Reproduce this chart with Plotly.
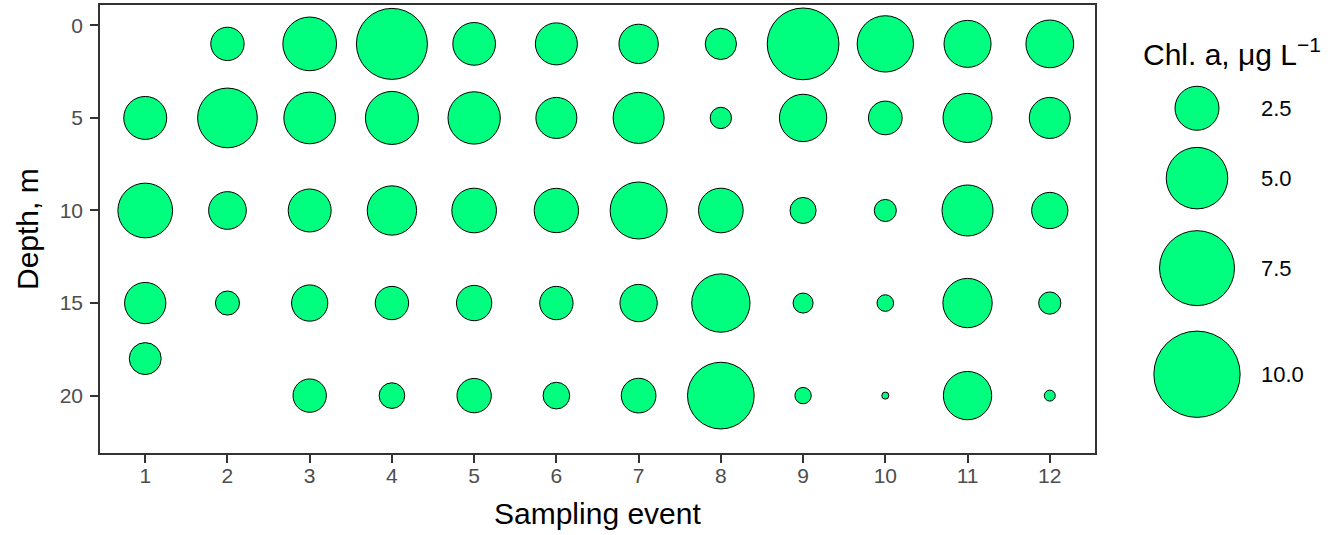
import numpy as np
import plotly.graph_objects as go

# ---------------- data ----------------
events = list(range(1, 13))
depth_levels = [1, 5, 10, 15, 18, 20]

# Chl. a (µg/L) per sampling event (1..12) at each depth; None = not sampled
chl_d1 = [None, 1.40, 3.78, 6.71, 2.35, 2.27, 1.98, 1.22, 6.85, 4.17, 2.87, 2.96]
chl_d5 = [2.38, 4.70, 3.49, 3.68, 3.58, 2.16, 3.40, 0.54, 2.91, 1.43, 3.13, 2.16]
chl_d10 = [3.93, 1.81, 2.38, 3.17, 2.58, 2.54, 4.27, 2.58, 0.83, 0.58, 3.40, 1.67]
chl_d15 = [2.19, 0.70, 1.67, 1.40, 1.58, 1.40, 1.77, 4.48, 0.47, 0.31, 3.17, 0.59]
chl_d18 = [1.28, None, None, None, None, None, None, None, None, None, None, None]
chl_d20 = [None, None, 1.40, 0.80, 1.49, 0.87, 1.52, 5.90, 0.30, 0.04, 3.04, 0.12]

legend_values = [2.5, 5.0, 7.5, 10.0]
legend_labels = ["2.5", "5.0", "7.5", "10.0"]
x_ticks = events
y_ticks = [0, 5, 10, 15, 20]

rows = [chl_d1, chl_d5, chl_d10, chl_d15, chl_d18, chl_d20]

# ---------------- build long table ----------------
xs, ys, vs = [], [], []
for depth, row in zip(depth_levels, rows):
    for ev, v in zip(events, row):
        if v is not None:
            xs.append(ev)
            ys.append(depth)
            vs.append(v)

LINE_W = 1.0


def bubble_diam(v):
    """size scale: outer diameter in px grows with sqrt of value"""
    return 2.7 + 26.75 * np.sqrt(np.asarray(v, dtype=float))


def marker_px(v):
    return bubble_diam(v) - LINE_W


FILL = "#00FF7F"
FONT = "Liberation Sans, Arial, sans-serif"

W, H = 1337, 535
ML, MR, MT, MB = 100, 0, 5, 82
PW = W - ML - MR
PH = H - MT - MB
main_right_px = 1095
x_dom_end = (main_right_px - ML) / PW

fig = go.Figure()

fig.add_trace(go.Scatter(
    x=xs, y=ys, mode="markers",
    marker=dict(size=marker_px(vs), sizemode="diameter", color=FILL,
                line=dict(color="black", width=LINE_W), opacity=1),
    showlegend=False, hoverinfo="x+y+text", text=[f"{v:.2f}" for v in vs],
    xaxis="x", yaxis="y",
))

# ---------------- size legend (overlay axes in pixel units) ----------------
leg_dom_start = 0.82
leg_x0 = ML + leg_dom_start * PW
leg_cx = 1197
leg_top = 79
diams = bubble_diam(legend_values)
key_h = 1.3 * diams
centers = leg_top + np.cumsum(key_h) - key_h / 2

fig.add_trace(go.Scatter(
    x=[leg_cx] * len(legend_values), y=centers, mode="markers",
    marker=dict(size=marker_px(legend_values), sizemode="diameter", color=FILL,
                line=dict(color="black", width=LINE_W), opacity=1),
    showlegend=False, hoverinfo="skip", xaxis="x2", yaxis="y2",
))

annotations = []
for c, lab in zip(centers, legend_labels):
    annotations.append(dict(x=1259, y=c, xref="x2", yref="y2", text=lab,
                            showarrow=False, xanchor="left", yanchor="middle",
                            font=dict(family=FONT, size=22, color="black")))
annotations.append(dict(x=1141, y=52, xref="x2", yref="y2",
                        text="Chl. a, μg L<sup>−1</sup>", showarrow=False,
                        xanchor="left", yanchor="middle",
                        font=dict(family=FONT, size=30, color="black")))
# axis titles
annotations.append(dict(x=(597.5 - ML) / PW, y=(MT + PH - 513) / PH, xref="paper", yref="paper",
                        text="Sampling event", showarrow=False, xanchor="center", yanchor="middle",
                        font=dict(family=FONT, size=30, color="black")))
annotations.append(dict(x=(27 - ML) / PW, y=(MT + PH - 229) / PH, xref="paper", yref="paper",
                        text="Depth, m", showarrow=False, xanchor="center", yanchor="middle",
                        textangle=-90, font=dict(family=FONT, size=30, color="black")))

axis_common = dict(showgrid=False, zeroline=False, showline=True, mirror=True,
                   linecolor="#333333", linewidth=1.5, ticks="outside", ticklen=8,
                   tickwidth=1.5, tickcolor="#333333",
                   tickfont=dict(family=FONT, size=21, color="#4D4D4D"))

fig.update_layout(
    width=W, height=H,
    margin=dict(l=ML, r=MR, t=MT, b=MB),
    paper_bgcolor="white", plot_bgcolor="white",
    xaxis=dict(domain=[0, x_dom_end], range=[0.45, 12.55], tickvals=x_ticks,
               ticklabelstandoff=-5, **axis_common),
    yaxis=dict(domain=[0, 1], range=[23.1, -1.1], tickvals=y_ticks,
               ticklabelstandoff=3, **axis_common),
    xaxis2=dict(domain=[leg_dom_start, 1], range=[leg_x0, W], visible=False,
                anchor="y2", fixedrange=True),
    yaxis2=dict(domain=[0, 1], range=[MT + PH, MT], visible=False,
                anchor="x2", fixedrange=True),
    annotations=annotations,
    showlegend=False,
)

fig.write_html("out.html", config={"displayModeBar": False},
               post_script="document.body.style.margin='0';document.body.style.overflow='hidden';")
